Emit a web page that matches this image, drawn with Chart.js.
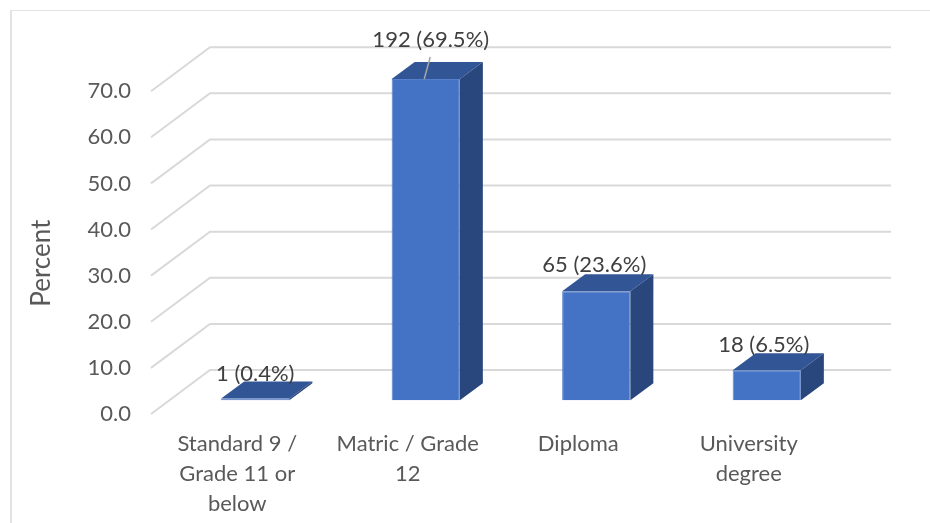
<!DOCTYPE html>
<html>
<head>
<meta charset="utf-8">
<title>Highest education level</title>
<script src="https://cdn.jsdelivr.net/npm/chart.js@4"></script>
<style>
  html, body { margin: 0; background: #fff; }
  #wrap { position: relative; width: 930px; height: 523px; overflow: hidden; }
  #frame { position: absolute; left: 10px; top: 10px; right: -4px; bottom: -4px; border-left: 2px solid #e2e2e2; border-top: 1px solid #e2e2e2; }
  canvas { position: absolute; left: 0; top: 0; }
</style>
</head>
<body>
<div id="wrap">
  <div id="frame"></div>
  <canvas id="eduChart" width="930" height="523"></canvas>
</div>
<script>
const categories = [["Standard 9 /", "Grade 11 or", "below"], ["Matric / Grade", "12"], "Diploma", ["University", "degree"]];
const percents = [0.4, 69.5, 23.6, 6.5];
const counts = [1, 192, 65, 18];
const yTicks = [0, 10, 20, 30, 40, 50, 60, 70];

const FONT = "Lato, Carlito, sans-serif";
const TEXT = "#595959";

// fake 3D: how far the floor and the bars recede, in px
const FLOOR_DX = 59, FLOOR_DY = -44;
const BAR_DX = 23, BAR_DY = -17;
const labelLift = [25, 39, 26, 25];
const labelShift = [0, 5, -2, -3];

const depthGrid = {
  id: "depthGrid",
  beforeDatasetsDraw(chart) {
    const { ctx, scales: { x, y } } = chart;
    const frontLeft = x.left - 19;
    const backRight = x.right + 39;
    ctx.save();
    ctx.strokeStyle = "#d9d9d9";
    ctx.lineWidth = 2;
    yTicks.forEach(v => {
      const py = y.getPixelForValue(v);
      ctx.beginPath();
      ctx.moveTo(frontLeft, py);
      ctx.lineTo(frontLeft + FLOOR_DX, py + FLOOR_DY);
      ctx.lineTo(backRight, py + FLOOR_DY);
      ctx.stroke();
    });
    ctx.restore();
  }
};

const boxFaces = {
  id: "boxFaces",
  afterDatasetsDraw(chart) {
    const { ctx } = chart;
    const bars = chart.getDatasetMeta(0).data;
    ctx.save();
    bars.forEach(bar => {
      const l = bar.x - bar.width / 2;
      const r = bar.x + bar.width / 2;
      // top face
      ctx.fillStyle = "#325596";
      ctx.beginPath();
      ctx.moveTo(l, bar.y);
      ctx.lineTo(l + BAR_DX, bar.y + BAR_DY);
      ctx.lineTo(r + BAR_DX, bar.y + BAR_DY);
      ctx.lineTo(r, bar.y);
      ctx.closePath();
      ctx.fill();
      // right face
      ctx.fillStyle = "#2a477d";
      ctx.beginPath();
      ctx.moveTo(r, bar.y);
      ctx.lineTo(r + BAR_DX, bar.y + BAR_DY);
      ctx.lineTo(r + BAR_DX, bar.base + BAR_DY);
      ctx.lineTo(r, bar.base);
      ctx.closePath();
      ctx.fill();
    });
    ctx.restore();
  }
};

const valueLabels = {
  id: "valueLabels",
  afterDraw(chart) {
    const { ctx, scales: { y } } = chart;
    const bars = chart.getDatasetMeta(0).data;
    ctx.save();
    // leader line on the tall bar, its label sits well above the box
    const tall = bars[1];
    ctx.strokeStyle = "#a6a6a6";
    ctx.lineWidth = 1.5;
    ctx.beginPath();
    ctx.moveTo(tall.x - 1.5, tall.y);
    ctx.lineTo(tall.x + 4.5, tall.y - 22);
    ctx.stroke();

    ctx.fillStyle = "#404040";
    ctx.font = "22px " + FONT;
    ctx.textAlign = "center";
    ctx.textBaseline = "middle";
    bars.forEach((bar, i) => {
      ctx.fillText(counts[i] + " (" + percents[i] + "%)", bar.x + labelShift[i], bar.y - labelLift[i]);
    });

    // axis title, centred on the plot's lower part rather than the whole scale
    ctx.fillStyle = TEXT;
    ctx.font = "26px " + FONT;
    ctx.translate(42, y.getPixelForValue(32.7));
    ctx.rotate(-Math.PI / 2);
    ctx.fillText("Percent", 0, 0);
    ctx.restore();
  }
};

new Chart(document.getElementById("eduChart"), {
  type: "bar",
  data: {
    labels: categories,
    datasets: [{
      data: percents,
      yAxisID: "yBars",
      backgroundColor: "#4472c4",
      borderColor: "#5580cc",
      borderWidth: 1,
      barPercentage: 1,
      categoryPercentage: 0.4
    }]
  },
  plugins: [depthGrid, boxFaces, valueLabels],
  options: {
    responsive: false,
    animation: false,
    layout: { padding: { top: 46, right: 78, left: 0, bottom: 0 } },
    plugins: { legend: { display: false }, tooltip: { enabled: false } },
    scales: {
      x: {
        grid: { display: false },
        border: { display: false },
        afterFit(scale) { scale.height = 109; },
        ticks: {
          color: TEXT,
          font: { family: FONT, size: 22, lineHeight: 1.36 },
          padding: 7,
          labelOffset: -18,
          maxRotation: 0,
          autoSkip: false
        }
      },
      // axis labels sit on the front edge of the floor
      y: {
        min: 0,
        max: 79.8,
        grid: { display: false },
        border: { display: false },
        afterFit(scale) { scale.width = 170; },
        ticks: {
          color: TEXT,
          font: { family: FONT, size: 22 },
          stepSize: 10,
          includeBounds: false,
          padding: 31,
          callback: v => v.toFixed(1)
        }
      },
      // bars stand further back, so their zero is higher up the canvas
      yBars: {
        display: false,
        min: -2.95,
        max: 76.65
      }
    }
  }
});
</script>
</body>
</html>
